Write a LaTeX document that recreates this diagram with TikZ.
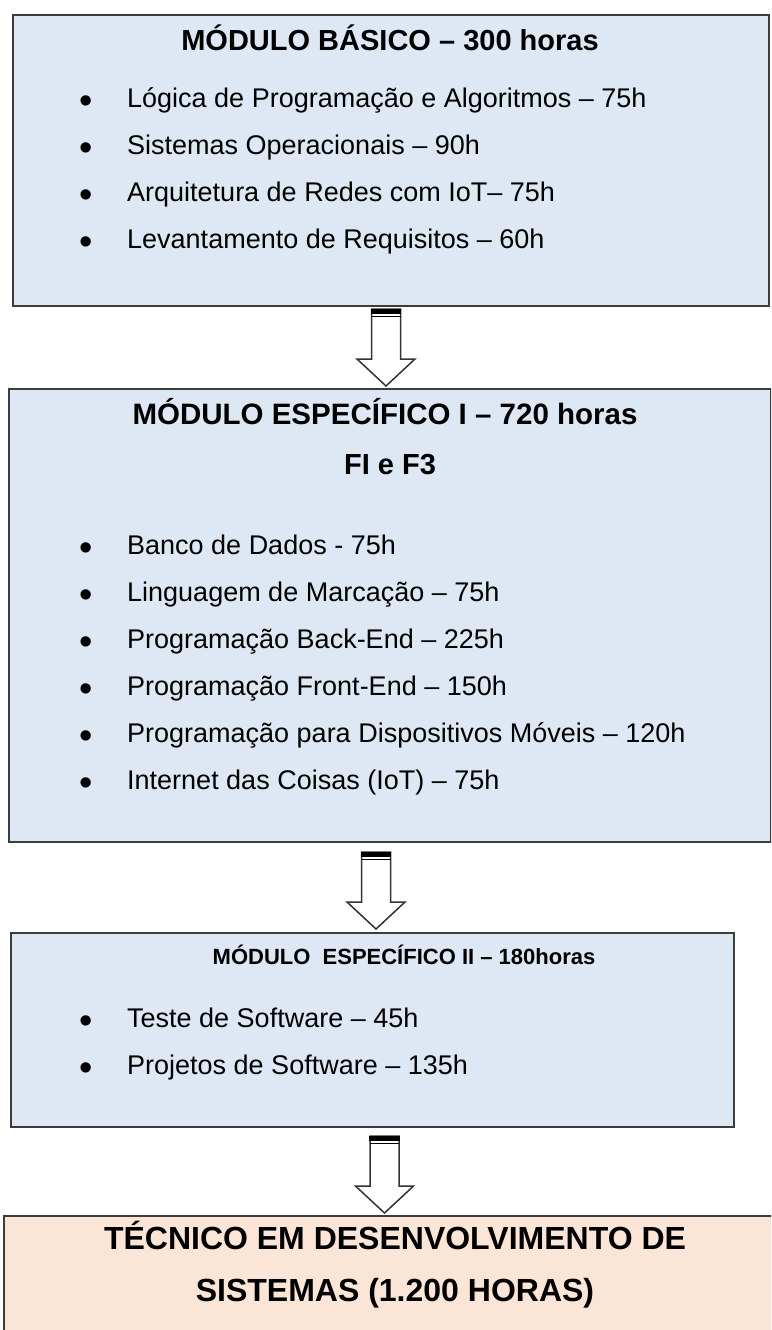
\documentclass[tikz,border=0pt]{standalone}
\usepackage{fontspec}
\setmainfont{Liberation Sans}
\usetikzlibrary{positioning, calc}

\definecolor{moduleblue}{HTML}{DDE8F4}
\definecolor{coursepeach}{HTML}{FBE5D6}
\definecolor{moduleline}{HTML}{3C3C3C}

\begin{document}
\begin{tikzpicture}[x=1pt, y=-1pt,
        module/.style={draw=moduleline, line width=2pt, fill=moduleblue, rectangle, inner sep=0pt, anchor=north west},
        heading/.style={inner sep=0pt, text height=0.75em, text depth=0.25em, font=\fontsize{29}{34}\selectfont\bfseries},
        subject/.style={anchor=west, inner sep=0pt, text height=0.75em, text depth=0.25em, font=\fontsize{27}{32}\selectfont},
        dot/.style={inner sep=0pt, font=\fontsize{38}{40}\selectfont},
        blockarrow/.pic={
            \draw[line width=1.5pt, draw=black!80, fill=white] (-14.5,0) -- (-14.5,50) -- (-29,50) -- (0,77) -- (29,50) -- (14.5,50) -- (14.5,0) -- cycle;
            \fill[black] (-15.25,0) rectangle (15.25,5);
            \draw[line width=1.5pt] (-14.5,7.5) -- (14.5,7.5);
        }
    ]
        \useasboundingbox (0,0) rectangle (771,1330);
        \clip (0,0) rectangle (771,1330);
        \fill[white] (0,0) rectangle (771,1330);

        % Modules
        \node[module, minimum width=756pt, minimum height=291pt] (basic) at (12,14) {};
        \node[module, minimum width=762pt, minimum height=453pt] (specI) at (8,388) {};
        \node[module, minimum width=723pt, minimum height=194pt] (specII) at (10,932) {};
        \node[module, fill=coursepeach, minimum width=772pt, minimum height=140pt] (course) at (3,1215) {};

        % Basic module
        \node[heading] (basictitle) at (390,48) {MÓDULO BÁSICO – 300 horas};
        \foreach \txt [count=\i] in {Lógica de Programação e Algoritmos – 75h, Sistemas Operacionais – 90h,
            Arquitetura de Redes com IoT– 75h, Levantamento de Requisitos – 60h}{
            \node[dot] at (86,{105+47*(\i-1)}) {•};
            \node[subject] (basic\i) at (127,{105+47*(\i-1)}) {\txt};
        }

        % Specific module I
        \node[heading, font=\fontsize{29.5}{34}\selectfont\bfseries] (specItitle) at (385,422) {MÓDULO ESPECÍFICO I – 720 horas};
        \node[heading] (specIclass) at (390,472) {FI e F3};
        \foreach \txt [count=\i] in {Banco de Dados - 75h, Linguagem de Marcação – 75h, Programação Back-End – 225h,
            Programação Front-End – 150h, Programação para Dispositivos Móveis – 120h, Internet das Coisas (IoT) – 75h}{
            \node[dot] at (86,{552+47*(\i-1)}) {•};
            \node[subject] (specI\i) at (127,{552+47*(\i-1)}) {\txt};
        }

        % Specific module II
        \node[heading, font=\fontsize{22}{27}\selectfont\bfseries] (specIItitle) at (404,962) {MÓDULO\ \ ESPECÍFICO II – 180horas};
        \foreach \txt [count=\i] in {Teste de Software – 45h, Projetos de Software – 135h}{
            \node[dot] at (86,{1025+47*(\i-1)}) {•};
            \node[subject] (specII\i) at (127,{1025+47*(\i-1)}) {\txt};
        }

        % Course
        \node[heading, font=\fontsize{32}{38}\selectfont\bfseries] (course1) at (395,1247) {TÉCNICO EM DESENVOLVIMENTO DE};
        \node[heading, font=\fontsize{32}{38}\selectfont\bfseries] (course2) at (395,1299) {SISTEMAS (1.200 HORAS)};

        % Arrows
        \pic at ([xshift=-5pt, yshift=-2pt]basic.south) {blockarrow};
        \pic at ([xshift=-14pt, yshift=-9pt]specI.south) {blockarrow};
        \pic at ([xshift=12pt, yshift=-8pt]specII.south) {blockarrow};
    \end{tikzpicture}
\end{document}
